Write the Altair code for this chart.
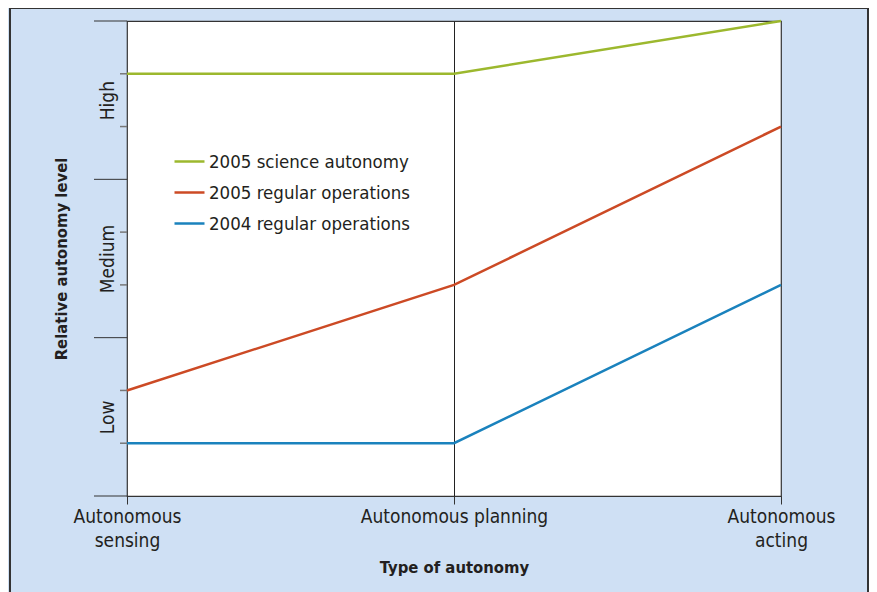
import altair as alt
import pandas as pd

categories = ["Autonomous sensing", "Autonomous planning", "Autonomous acting"]
series_names = ["2005 science autonomy", "2005 regular operations", "2004 regular operations"]
science_2005 = [8, 8, 9]
regular_2005 = [2, 4, 7]
regular_2004 = [1, 1, 4]
level_labels = {1.5: "Low", 4.5: "Medium", 7.5: "High"}
minor_ticks = [1, 2, 4, 5, 7, 8]
major_ticks = [0, 3, 6, 9]
colors = ["#9cb82e", "#cc4a25", "#1a82bd"]

rows = []
for name, vals in zip(series_names, [science_2005, regular_2005, regular_2004]):
    for c, v in zip(categories, vals):
        rows.append({"category": c, "level": v, "series": name})
df = pd.DataFrame(rows)
major_df = pd.DataFrame({"level": major_ticks})
minor_df = pd.DataFrame({"level": minor_ticks})

FONT = "Liberation Sans Narrow, DejaVu Sans Condensed, Roboto, sans-serif"
TXT = "#231f20"

label_expr = " : ".join(
    f"datum.value == {k} ? '{v}'" for k, v in level_labels.items()
) + " : ''"

x_enc = alt.X(
    "category:N",
    sort=categories,
    scale=alt.Scale(type="point", padding=0),
    axis=alt.Axis(
        title="Type of autonomy",
        titleFont=FONT, titleFontSize=16.5, titleFontWeight="bold", titleColor=TXT,
        titlePadding=9,
        labelFont=FONT, labelFontSize=19, labelColor=TXT, labelLineHeight=24,
        labelExpr="datum.label == 'Autonomous planning' ? datum.label : split(datum.label, ' ')",
        labelAngle=0, labelPadding=3, labelLimit=0,
        tickSize=8, tickColor="#333333", domain=False,
        grid=True, gridColor="#222222", gridWidth=1,
        gridOpacity={"condition": {"test": "datum.value == 'Autonomous planning'", "value": 1}, "value": 0},
    ),
)

y_scale = alt.Scale(domain=[0, 9], nice=False, zero=False)

lines = alt.Chart(df).mark_line(strokeWidth=2.5).encode(
    x=x_enc,
    y=alt.Y(
        "level:Q",
        scale=y_scale,
        axis=alt.Axis(
            title="Relative autonomy level",
            titleFont=FONT, titleFontSize=16.5, titleFontWeight="bold", titleColor=TXT,
            titleX=-58, titleAngle=270,
            values=list(level_labels.keys()),
            labelExpr=label_expr,
            labelFont=FONT, labelFontSize=19, labelColor=TXT,
            labelAngle=270, labelAlign="center", labelBaseline="bottom", labelPadding=10,
            ticks=False, domain=False, grid=False,
        ),
    ),
    color=alt.Color(
        "series:N",
        sort=series_names,
        scale=alt.Scale(domain=series_names, range=colors),
        legend=alt.Legend(
            title=None, orient="none", legendX=46, legendY=124,
            symbolType="stroke", symbolSize=900, symbolStrokeWidth=2.5,
            labelFont=FONT, labelFontSize=18.5, labelColor=TXT, labelLimit=0,
            rowPadding=5, labelOffset=3,
        ),
    ),
)

major = alt.Chart(major_df).mark_rule(color="#333333", strokeWidth=1).encode(
    y=alt.Y("level:Q", scale=y_scale),
    x=alt.value(-33),
    x2=alt.value(0),
)

minor = alt.Chart(minor_df).mark_rule(color="#777777", strokeWidth=1.5).encode(
    y=alt.Y("level:Q", scale=y_scale),
    x=alt.value(-7),
    x2=alt.value(0),
)

border = alt.Chart(major_df).mark_rect(fill=None, stroke="#333333", strokeWidth=1.5).encode(
    x=alt.value(-117), x2=alt.value(741), y=alt.value(-13), y2=alt.value(620),
)

chart = alt.layer(lines, major, minor, border).properties(
    width=654, height=475,
    autosize=alt.AutoSizeParams(type="none"),
    padding={"left": 119, "top": 13, "right": 88, "bottom": 100},
    background="#cfe0f4",
).configure_view(
    fill="white", stroke="#333333", strokeWidth=1.2,
)

chart.save("out.html", embed_options={"renderer": "svg", "actions": False})
